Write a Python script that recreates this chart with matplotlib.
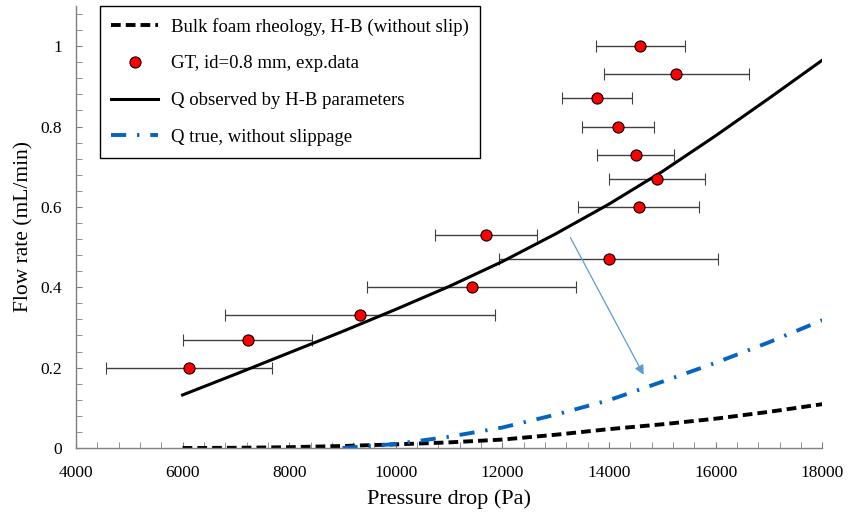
import matplotlib
matplotlib.use("Agg")
import matplotlib.pyplot as plt
from matplotlib.lines import Line2D
from matplotlib.ticker import MultipleLocator

plt.rcParams['font.family'] = ['Liberation Serif', 'DejaVu Serif']

# experimental points (GT, id=0.8 mm)
exp_dp = [6126, 7221, 9328, 11424, 11687, 13994, 14557, 14900, 14500, 14163, 13775, 15263, 14590]
exp_q = [0.20, 0.27, 0.33, 0.40, 0.53, 0.47, 0.60, 0.67, 0.73, 0.80, 0.87, 0.93, 1.00]
exp_err = [1555, 1207, 2535, 1960, 960, 2058, 1130, 897, 722, 673, 660, 1356, 842]

# model curves
dp_grid = [6000, 7000, 8000, 9000, 10000, 11000, 12000, 13000, 14000, 15000, 16000, 17000, 18000]
q_bulk = [0.0, 0.0005, 0.002, 0.005, 0.009, 0.014, 0.021, 0.033, 0.047, 0.059, 0.073, 0.090, 0.109]
q_obs = [0.132, 0.184, 0.237, 0.290, 0.345, 0.402, 0.464, 0.533, 0.607, 0.688, 0.777, 0.870, 0.965]

dp_true = [9000, 10000, 11000, 12000, 13000, 14000, 15000, 16000, 17000, 18000]
q_true = [0.0, 0.010, 0.028, 0.051, 0.083, 0.119, 0.165, 0.212, 0.263, 0.318]

# arrow from observed to true curve
arrow_from = (13250, 0.53)
arrow_to = (14675, 0.176)

fig = plt.figure(figsize=(8.48, 5.14), dpi=100)
ax = fig.add_axes([0.0896, 0.1284, 0.8800, 0.8600])

l_bulk, = ax.plot(dp_grid, q_bulk, color='black', lw=2.8, dashes=(2.5, 1.3))
ax.errorbar(exp_dp, exp_q, xerr=exp_err, fmt='o', color='red', mec='black', mew=0.8,
            ms=8, ecolor='#404040', elinewidth=1, capsize=4, capthick=1)
l_obs, = ax.plot(dp_grid, q_obs, color='black', lw=2.2)
l_true, = ax.plot(dp_true, q_true, color='#0563C1', lw=2.8, dashes=(3.9, 2.8, 0.6, 2.8))
m_exp = Line2D([], [], ls='none', marker='o', color='red', mec='black', mew=0.8, ms=8)

ax.annotate('', xy=arrow_to, xytext=arrow_from,
            arrowprops=dict(arrowstyle='-|>', color='#5B9BD5', lw=0.9, mutation_scale=14))

ax.set_xlim(4000, 18000)
ax.set_ylim(0, 1.1)
ax.xaxis.set_major_locator(MultipleLocator(2000))
ax.xaxis.set_minor_locator(MultipleLocator(400))
ax.yaxis.set_major_locator(MultipleLocator(0.2))
ax.yaxis.set_minor_locator(MultipleLocator(0.04))
ax.yaxis.set_major_formatter(plt.FuncFormatter(lambda v, p: f'{v:g}'))

for s in ['top', 'right']:
    ax.spines[s].set_visible(False)
for s in ['left', 'bottom']:
    ax.spines[s].set_color('#7f7f7f')
    ax.spines[s].set_linewidth(1)
ax.tick_params(which='both', direction='in', length=4.5, color='#7f7f7f', labelsize=12.5)
ax.tick_params(axis='x', pad=12)
ax.tick_params(axis='y', pad=10)

ax.set_xlabel('Pressure drop (Pa)', fontsize=16, labelpad=6)
ax.set_ylabel('Flow rate (mL/min)', fontsize=15.5, labelpad=5)

leg = ax.legend([l_bulk, m_exp, l_obs, l_true],
                ['Bulk foam rheology, H-B (without slip)', 'GT, id=0.8 mm, exp.data',
                 'Q observed by H-B parameters', 'Q true, without slippage'],
                loc='upper left', bbox_to_anchor=(0.032, 1.0),
                borderaxespad=0, fontsize=13.5, frameon=True, fancybox=False,
                edgecolor='black', framealpha=1, labelspacing=1.05,
                handlelength=2.5, handletextpad=0.65, borderpad=0.62)
leg.get_frame().set_linewidth(1)

fig.savefig('out.png', dpi=100)
